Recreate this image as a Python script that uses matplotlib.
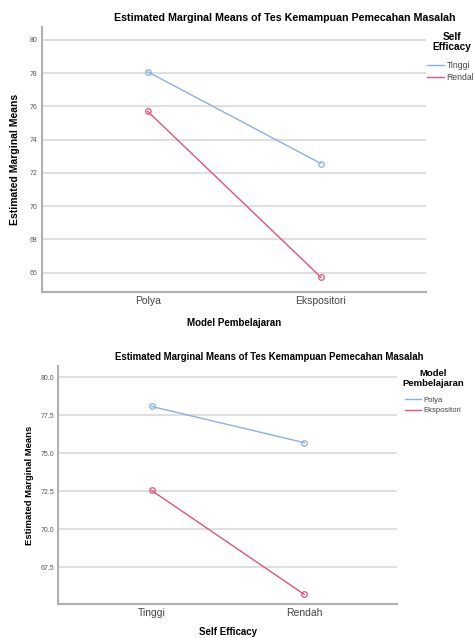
import matplotlib
matplotlib.use('Agg')
import matplotlib.pyplot as plt

# data
model = ['Polya', 'Ekspositori']
efikasi = ['Tinggi', 'Rendah']
tinggi = [78.08, 72.56]     # Self Efficacy Tinggi: Polya, Ekspositori
rendah = [75.70, 65.72]     # Self Efficacy Rendah: Polya, Ekspositori
polya = [78.08, 75.70]      # Model Polya: Tinggi, Rendah
ekspositori = [72.56, 65.72]

yticks_top = [66, 68, 70, 72, 74, 76, 78, 80]
yticks_bot = [67.5, 70.0, 72.5, 75.0, 77.5, 80.0]

judul = 'Estimated Marginal Means of Tes Kemampuan Pemecahan Masalah'
biru = '#8ab0e6'
merah = '#e05577'

plt.rcParams['font.family'] = ['Liberation Sans', 'DejaVu Sans']

fig = plt.figure(figsize=(4.73, 6.38), dpi=100)


def gambar(ax, xlab, s1, s2, lab1, lab2, yticks, ylim, lfs, fmt):
    x = range(len(xlab))
    ax.plot(x, s1, color=biru, lw=1, marker='o', ms=4, mfc='none', mew=0.9, label=lab1, zorder=3)
    ax.plot(x, s2, color=merah, lw=1, marker='o', ms=4, mfc='none', mew=0.9, label=lab2, zorder=3)
    ax.set_xlim(-0.61, 1.607)
    ax.set_ylim(*ylim)
    ax.set_xticks(list(x))
    ax.set_xticklabels(xlab, fontsize=7.5, color='#444444')
    ax.set_yticks(yticks)
    ax.set_yticklabels([fmt.format(v) for v in yticks], fontsize=5, color='#555555')
    ax.tick_params(length=0, pad=3)
    ax.grid(axis='y', color='#d9d9d9', lw=1.2)
    ax.set_axisbelow(True)
    for s in ['top', 'right']:
        ax.spines[s].set_visible(False)
    for s in ['left', 'bottom']:
        ax.spines[s].set_color('#b0b0b0')
        ax.spines[s].set_linewidth(1.5)
    ax.set_ylabel('Estimated Marginal Means', fontsize=lfs, fontweight='bold')


def legenda(ax, kiri, atas, fs, hl):
    leg = ax.legend(loc='upper left', bbox_to_anchor=(kiri / 473, 1 - atas / 638),
                    bbox_transform=fig.transFigure, frameon=False, fontsize=fs,
                    handlelength=hl, handletextpad=0.25, labelspacing=0.4,
                    borderpad=0, borderaxespad=0)
    for h in leg.legend_handles:
        h.set_marker('')
    for t in leg.get_texts():
        t.set_color('#444444')
    return leg


# atas
ax1 = fig.add_axes([0.0888, 0.5428, 0.812, 0.415])
gambar(ax1, model, tinggi, rendah, 'Tinggi', 'Rendah', yticks_top, (64.85, 80.78), 7.5, '{:g}')
ax1.set_xlabel('Model Pembelajaran', fontsize=7, fontweight='bold', labelpad=9)
ax1.yaxis.set_label_coords(-0.056, 0.5)
fig.text(284.5 / 473, 1 - 17.7 / 638, judul, fontsize=7.7, fontweight='bold', ha='center', va='center')
fig.text(452 / 473, 1 - 36.7 / 638, 'Self', fontsize=7.3, fontweight='bold', ha='center', va='center')
fig.text(452 / 473, 1 - 47.3 / 638, 'Efficacy', fontsize=7.3, fontweight='bold', ha='center', va='center')
legenda(ax1, 427, 61, 6.2, 2.0)

# bawah
ax2 = fig.add_axes([0.1233, 0.0528, 0.716, 0.374])
gambar(ax2, efikasi, polya, ekspositori, 'Polya', 'Ekspositori', yticks_bot, (65.07, 80.76), 6.8, '{:.1f}')
ax2.set_xlabel('Self Efficacy', fontsize=7, fontweight='bold', labelpad=6)
ax2.yaxis.set_label_coords(-0.072, 0.5)
fig.text(269.5 / 473, 1 - 357.3 / 638, judul, fontsize=6.95, fontweight='bold', ha='center', va='center')
fig.text(433 / 473, 1 - 374 / 638, 'Model', fontsize=6.8, fontweight='bold', ha='center', va='center')
fig.text(433 / 473, 1 - 384 / 638, 'Pembelajaran', fontsize=6.8, fontweight='bold', ha='center', va='center')
legenda(ax2, 405, 396.5, 5.5, 2.1)

fig.savefig('out.png', dpi=100)
